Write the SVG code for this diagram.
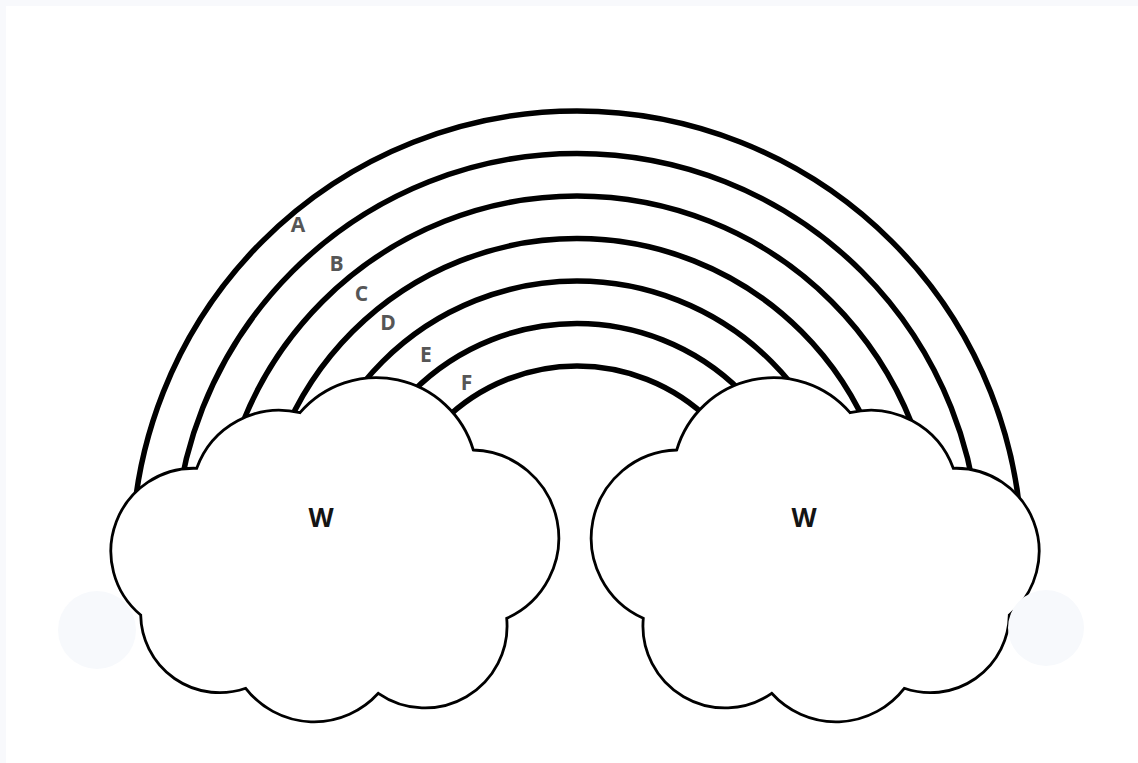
<svg xmlns="http://www.w3.org/2000/svg" width="1138" height="763" viewBox="0 0 1138 763">
  <defs>
    <style>
      .band { fill: none; stroke: #000; stroke-width: 5.5; }
      .cloud { fill: #fff; stroke: #000; stroke-width: 2.8; stroke-linejoin: miter; }
      .lbl { font-family: "Open Sans", "Noto Sans", "Liberation Sans", sans-serif; font-weight: 700; font-size: 21px; fill: #565656; text-anchor: middle; }
      .w { font-family: "Open Sans", "Noto Sans", "Liberation Sans", sans-serif; font-weight: 700; font-size: 26px; fill: #141414; text-anchor: middle; }
      .ghost { fill: #f7f9fc; }
    </style>
    <path id="cloudShape" d="M 140.7 615 A 83 83 0 0 1 196.7 468.3 A 88 88 0 0 1 300 412.7 A 101 101 0 0 1 473.3 450 A 88 88 0 0 1 506.7 618.3 A 82 82 0 0 1 378.3 693.3 A 86.5 86.5 0 0 1 245.7 688.3 A 79 79 0 0 1 140.7 615 Z"/>
  </defs>

  <rect x="0" y="0" width="1138" height="763" fill="#f8f9fc"/>
  <rect x="6" y="6" width="1132" height="757" fill="#ffffff"/>

  <g id="rainbow">
    <path class="band" d="M 132 556 A 445 445 0 0 1 1022 556"/>
    <path class="band" d="M 174.5 556 A 402.5 402.5 0 0 1 979.5 556"/>
    <path class="band" d="M 217 556 A 360 360 0 0 1 937 556"/>
    <path class="band" d="M 259.5 556 A 317.5 317.5 0 0 1 894.5 556"/>
    <path class="band" d="M 302 556 A 275 275 0 0 1 852 556"/>
    <path class="band" d="M 344.5 556 A 232.5 232.5 0 0 1 809.5 556"/>
    <path class="band" d="M 387 556 A 190 190 0 0 1 767 556"/>
  </g>

  <g id="band-labels">
    <text class="lbl" x="298" y="231.5">A</text>
    <text class="lbl" x="336.5" y="270.5">B</text>
    <text class="lbl" x="361.5" y="301">C</text>
    <text class="lbl" x="388" y="330">D</text>
    <text class="lbl" x="426" y="361.5">E</text>
    <text class="lbl" x="466.5" y="390">F</text>
  </g>

  <g id="cloud-left">
    <use href="#cloudShape" class="cloud"/>
    <text class="w" x="321" y="527">W</text>
  </g>

  <g id="cloud-right">
    <use href="#cloudShape" class="cloud" transform="matrix(-1 0 0 1 1150 0)"/>
    <text class="w" x="804" y="527">W</text>
  </g>

  <g id="ghost-circles">
    <circle class="ghost" cx="97" cy="630" r="39"/>
    <circle class="ghost" cx="1046" cy="628" r="38"/>
  </g>
</svg>
